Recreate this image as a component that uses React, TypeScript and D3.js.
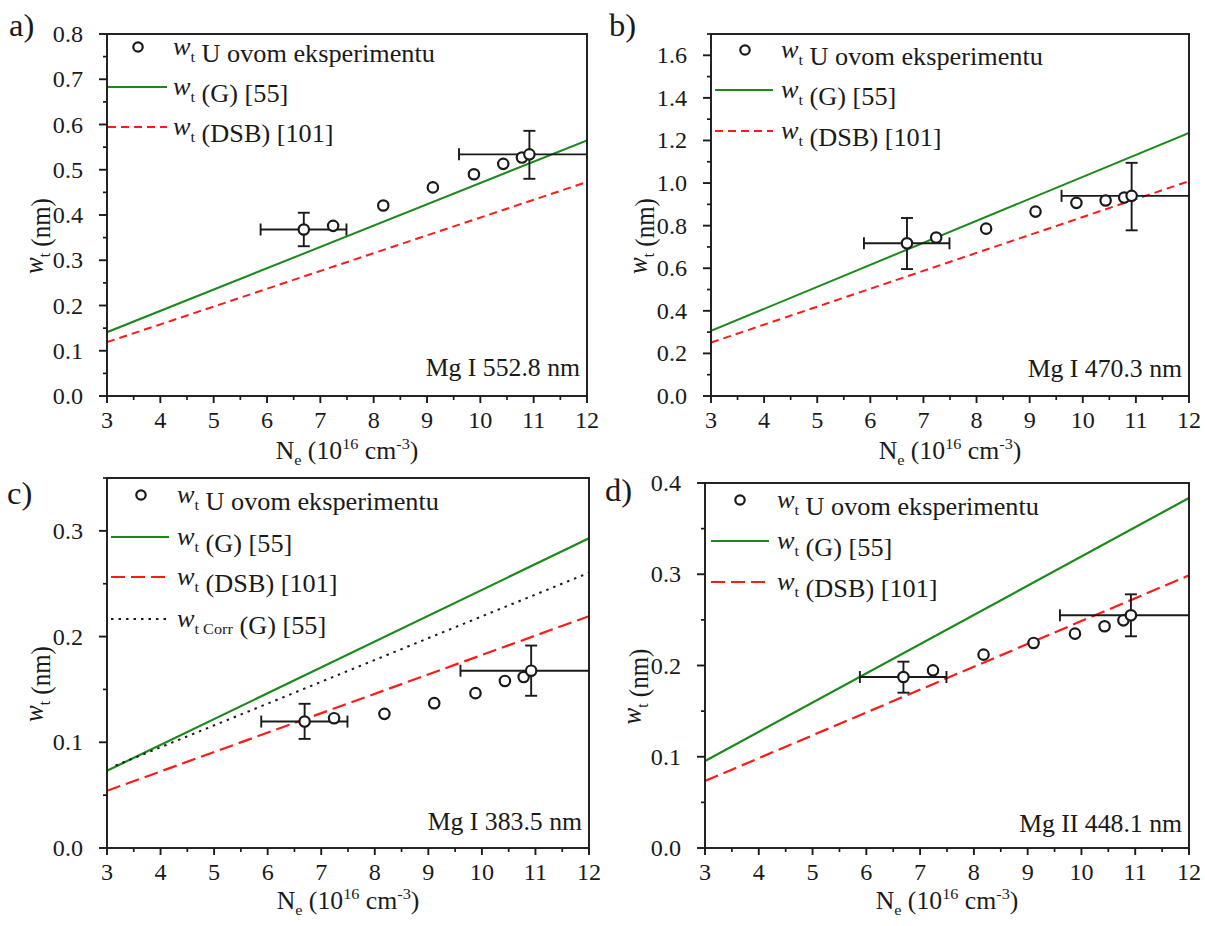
import React from "react";
import * as d3 from "d3";

// ---------- data ----------
const NE = [6.69, 7.24, 8.18, 9.11, 9.88, 10.43, 10.78, 10.92];
const WT_A = [0.368, 0.376, 0.421, 0.461, 0.49, 0.513, 0.527, 0.534];
const WT_B = [0.717, 0.744, 0.786, 0.866, 0.907, 0.918, 0.932, 0.94];
const WT_C = [0.1196, 0.1228, 0.1269, 0.137, 0.1465, 0.158, 0.1617, 0.1677];
const WT_D = [0.1874, 0.1947, 0.2119, 0.2247, 0.2349, 0.243, 0.2495, 0.255];

// error bars (first and last point)
const ERR_IDX = [0, 7];
const NE_LO = [5.88, 9.6];
const NE_HI = [7.49, 12.24];
const WT_LO_A = [0.331, 0.48];
const WT_HI_A = [0.405, 0.586];
const WT_LO_B = [0.596, 0.778];
const WT_HI_B = [0.836, 1.095];
const WT_LO_C = [0.1032, 0.144];
const WT_HI_C = [0.1364, 0.1915];
const WT_LO_D = [0.1702, 0.232];
const WT_HI_D = [0.2042, 0.278];

// theory lines
const LINE_NE = [3, 12];
const G_A = [0.141, 0.565];
const DSB_A = [0.119, 0.473];
const G_B = [0.306, 1.236];
const DSB_B = [0.251, 1.009];
const G_C = [0.0731, 0.293];
const DSB_C = [0.0541, 0.2193];
const CORR_NE = [3.16, 12];
const CORR_C = [0.078, 0.2604];
const G_D = [0.0953, 0.3836];
const DSB_D = [0.0734, 0.2988];

// ticks
const X_TICKS = [3, 4, 5, 6, 7, 8, 9, 10, 11, 12];
const Y_TICKS_A = [0, 0.1, 0.2, 0.3, 0.4, 0.5, 0.6, 0.7, 0.8];
const Y_TICKS_B = [0, 0.2, 0.4, 0.6, 0.8, 1.0, 1.2, 1.4, 1.6];
const Y_TICKS_C = [0, 0.1, 0.2, 0.3];
const Y_TICKS_D = [0, 0.1, 0.2, 0.3, 0.4];

const LABELS = ["a)", "b)", "c)", "d)"];
const LINES_NAME = ["Mg I 552.8 nm", "Mg I 470.3 nm", "Mg I 383.5 nm", "Mg II 448.1 nm"];

// ---------- style ----------
const FONT = "'Liberation Serif', 'Times New Roman', serif";
const SX = 1.05; // slight horizontal stretch of the original figure
const GREEN = "#1b8a1b";
const RED = "#ff1a1a";
const INK = "#1a1a1a";

function T({ x, y, size, anchor = "start", rotate = 0, children, style = {} }: any) {
  return (
    <text
      transform={`translate(${x},${y}) scale(${SX},1)${rotate ? ` rotate(${rotate})` : ""}`}
      fontFamily={FONT}
      fontSize={size}
      textAnchor={anchor}
      fill={INK}
      style={{ whiteSpace: "pre", ...style }}
    >
      {children}
    </text>
  );
}

function WSub({ sub, size }: { sub: string; size: number }) {
  return (
    <>
      <tspan fontStyle="italic">w</tspan>
      <tspan fontSize={size * 0.62} dy={size * 0.28}>{sub}</tspan>
      <tspan dy={-size * 0.28}>{""}</tspan>
    </>
  );
}

type PanelCfg = {
  id: number;
  left: number;
  right: number;
  top: number;
  bottom: number;
  yMax: number;
  yTicks: number[];
  yMinorStep: number;
  wt: number[];
  lo: number[];
  hi: number[];
  g: number[];
  dsb: number[];
  corr?: number[];
  legend: { cx: number; cy: number; l0: number; l1: number; rows: number[]; tx: number };
  dash: string;
  lw: number;
  labelPos: [number, number];
  annoDy: number;
  titleDy: number;
};

const PANELS: PanelCfg[] = [
  {
    id: 0, left: 107, right: 587, top: 34, bottom: 396, yMax: 0.8, yTicks: Y_TICKS_A, yMinorStep: 0.05,
    wt: WT_A, lo: WT_LO_A, hi: WT_HI_A, g: G_A, dsb: DSB_A,
    legend: { cx: 31, cy: 13, l0: 1, l1: 60, rows: [53, 93], tx: 66 },
    dash: "8,5", lw: 2, labelPos: [9, 36], annoDy: -20, titleDy: 63,
  },
  {
    id: 1, left: 711, right: 1189, top: 34, bottom: 396, yMax: 1.7, yTicks: Y_TICKS_B, yMinorStep: 0.1,
    wt: WT_B, lo: WT_LO_B, hi: WT_HI_B, g: G_B, dsb: DSB_B,
    legend: { cx: 34, cy: 16, l0: 4, l1: 62, rows: [56, 97], tx: 70 },
    dash: "8,5", lw: 2, labelPos: [609, 36], annoDy: -19, titleDy: 63,
  },
  {
    id: 2, left: 107, right: 589, top: 478, bottom: 848, yMax: 0.35, yTicks: Y_TICKS_C, yMinorStep: 0.05,
    wt: WT_C, lo: WT_LO_C, hi: WT_HI_C, g: G_C, dsb: DSB_C, corr: CORR_C,
    legend: { cx: 34, cy: 17, l0: 4, l1: 62, rows: [59, 99, 141], tx: 70 },
    dash: "14,6", lw: 2.2, labelPos: [7, 504], annoDy: -18, titleDy: 61,
  },
  {
    id: 3, left: 705, right: 1189, top: 483, bottom: 848, yMax: 0.4, yTicks: Y_TICKS_D, yMinorStep: 0.05,
    wt: WT_D, lo: WT_LO_D, hi: WT_HI_D, g: G_D, dsb: DSB_D,
    legend: { cx: 35, cy: 17, l0: 6, l1: 64, rows: [58, 99], tx: 72 },
    dash: "14,6", lw: 2.2, labelPos: [605, 501], annoDy: -16, titleDy: 61,
  },
];

function Panel({ p }: { p: PanelCfg }) {
  const x = d3.scaleLinear().domain([3, 12]).range([p.left, p.right]);
  const y = d3.scaleLinear().domain([0, p.yMax]).range([p.bottom, p.top]);
  const line = d3
    .line<[number, number]>()
    .x((d) => x(d[0]))
    .y((d) => y(d[1]));
  const clipId = `clip${p.id}`;
  const xMinor = d3.range(3.5, 12, 1);
  const yMinor = d3
    .range(0, p.yMax + 1e-9, p.yMinorStep)
    .filter((v) => !p.yTicks.some((t) => Math.abs(t - v) < 1e-6));
  const fmt = d3.format(".1f");
  const TS = 23;
  const LS = 25;
  const midX = (p.left + p.right) / 2;
  const midY = (p.top + p.bottom) / 2 + 21;
  const L = p.legend;
  const cap = 6;

  return (
    <g>
      <defs>
        <clipPath id={clipId}>
          <rect x={p.left} y={p.top} width={p.right - p.left} height={p.bottom - p.top} />
        </clipPath>
      </defs>

      {/* theory lines */}
      <g clipPath={`url(#${clipId})`}>
        <path d={line(LINE_NE.map((v, i) => [v, p.g[i]]) as any) || ""} stroke={GREEN} strokeWidth={p.lw} fill="none" />
        <path
          d={line(LINE_NE.map((v, i) => [v, p.dsb[i]]) as any) || ""}
          stroke={RED}
          strokeWidth={p.lw}
          strokeDasharray={p.dash}
          fill="none"
        />
        {p.corr && (
          <path
            d={line(CORR_NE.map((v, i) => [v, p.corr![i]]) as any) || ""}
            stroke={INK}
            strokeWidth={2}
            strokeDasharray="2.5,5"
            fill="none"
          />
        )}
        {/* error bars */}
        {ERR_IDX.map((idx, k) => {
          const cx = x(NE[idx]);
          const cy = y(p.wt[idx]);
          const x0 = x(NE_LO[k]);
          const x1 = x(NE_HI[k]);
          const y0 = y(p.lo[k]);
          const y1 = y(p.hi[k]);
          return (
            <g key={k} stroke={INK} strokeWidth={1.9}>
              <line x1={x0} x2={x1} y1={cy} y2={cy} />
              <line x1={x0} x2={x0} y1={cy - cap} y2={cy + cap} />
              <line x1={x1} x2={x1} y1={cy - cap} y2={cy + cap} />
              <line x1={cx} x2={cx} y1={y0} y2={y1} />
              <line x1={cx - cap} x2={cx + cap} y1={y0} y2={y0} />
              <line x1={cx - cap} x2={cx + cap} y1={y1} y2={y1} />
            </g>
          );
        })}
        {NE.map((v, i) => (
          <circle key={i} cx={x(v)} cy={y(p.wt[i])} r={5.2} fill="white" stroke={INK} strokeWidth={2.2} />
        ))}
      </g>

      {/* frame */}
      <rect x={p.left} y={p.top} width={p.right - p.left} height={p.bottom - p.top} fill="none" stroke={INK} strokeWidth={1.9} />

      {/* x axis */}
      {X_TICKS.map((t) => (
        <g key={t}>
          <line x1={x(t)} x2={x(t)} y1={p.bottom} y2={p.bottom + 7} stroke={INK} strokeWidth={1.9} />
          <T x={x(t)} y={p.bottom + 32} size={TS} anchor="middle">
            {String(t)}
          </T>
        </g>
      ))}
      {xMinor.map((t) => (
        <line key={t} x1={x(t)} x2={x(t)} y1={p.bottom} y2={p.bottom + 4} stroke={INK} strokeWidth={1.7} />
      ))}

      {/* y axis */}
      {p.yTicks.map((t) => (
        <g key={t}>
          <line x1={p.left - 8} x2={p.left} y1={y(t)} y2={y(t)} stroke={INK} strokeWidth={1.9} />
          <T x={p.left - 24} y={y(t) + 8} size={TS} anchor="end">
            {fmt(t)}
          </T>
        </g>
      ))}
      {yMinor.map((t) => (
        <line key={t} x1={p.left - 4} x2={p.left} y1={y(t)} y2={y(t)} stroke={INK} strokeWidth={1.7} />
      ))}

      {/* axis titles */}
      <T x={midX} y={p.bottom + p.titleDy} size={24.5} anchor="middle">
        <tspan>N</tspan>
        <tspan fontSize={15.5} dy={6}>e</tspan>
        <tspan dy={-6}>{" (10"}</tspan>
        <tspan fontSize={15.5} dy={-10}>16</tspan>
        <tspan dy={10}>{" cm"}</tspan>
        <tspan fontSize={15.5} dy={-10}>-3</tspan>
        <tspan dy={10}>)</tspan>
      </T>
      <T x={p.left - 64} y={midY} size={25} anchor="middle" rotate={-90}>
        <WSub sub="t" size={25} />
        <tspan>{" (nm)"}</tspan>
      </T>

      {/* legend */}
      <circle cx={p.left + L.cx} cy={p.top + L.cy} r={4.7} fill="white" stroke={INK} strokeWidth={2.2} />
      <T x={p.left + L.tx} y={p.top + L.cy + 8} size={LS}>
        <WSub sub="t" size={LS} />
        <tspan>{" U ovom eksperimentu"}</tspan>
      </T>
      <line x1={p.left + L.l0} x2={p.left + L.l1} y1={p.top + L.rows[0]} y2={p.top + L.rows[0]} stroke={GREEN} strokeWidth={p.lw} />
      <T x={p.left + L.tx} y={p.top + L.rows[0] + 8} size={LS}>
        <WSub sub="t" size={LS} />
        <tspan>{" (G) [55]"}</tspan>
      </T>
      <line
        x1={p.left + L.l0}
        x2={p.left + L.l1}
        y1={p.top + L.rows[1]}
        y2={p.top + L.rows[1]}
        stroke={RED}
        strokeWidth={p.lw}
        strokeDasharray={p.dash}
      />
      <T x={p.left + L.tx} y={p.top + L.rows[1] + 8} size={LS}>
        <WSub sub="t" size={LS} />
        <tspan>{" (DSB) [101]"}</tspan>
      </T>
      {p.corr && (
        <>
          <line
            x1={p.left + L.l0}
            x2={p.left + L.l1}
            y1={p.top + L.rows[2]}
            y2={p.top + L.rows[2]}
            stroke={INK}
            strokeWidth={2}
            strokeDasharray="2.5,5"
          />
          <T x={p.left + L.tx} y={p.top + L.rows[2] + 8} size={LS}>
            <WSub sub="t Corr" size={LS} />
            <tspan>{" (G) [55]"}</tspan>
          </T>
        </>
      )}

      {/* annotation & panel label */}
      <T x={p.right - 7} y={p.bottom + p.annoDy} size={24.5} anchor="end">
        {LINES_NAME[p.id]}
      </T>
      <T x={p.labelPos[0]} y={p.labelPos[1]} size={31}>
        {LABELS[p.id]}
      </T>
    </g>
  );
}

export default function App() {
  return (
    <svg
      width={1205}
      height={926}
      viewBox="0 0 1205 926"
      style={{ position: "absolute", left: 0, top: 0, background: "white" }}
    >
      <rect width={1205} height={926} fill="white" />
      {PANELS.map((p) => (
        <Panel key={p.id} p={p} />
      ))}
    </svg>
  );
}
